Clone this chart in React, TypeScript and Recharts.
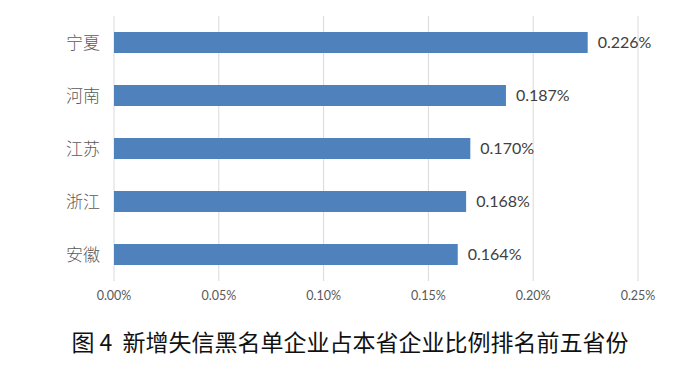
import React from 'react';
import { BarChart, Bar, XAxis, YAxis, CartesianGrid, LabelList } from 'recharts';

const provinces = ['宁夏', '河南', '江苏', '浙江', '安徽'];
const ratios = [0.226, 0.187, 0.170, 0.168, 0.164];
const xTicks = [0, 0.05, 0.1, 0.15, 0.2, 0.25];
const title = '图 4  新增失信黑名单企业占本省企业比例排名前五省份';

const data = provinces.map((name, i) => ({ name, value: ratios[i] }));

const pct = (v: number, digits: number) => `${Number(v).toFixed(digits)}%`;

export default function App() {
    return (
        <div style={{ position: 'absolute', left: 0, top: 0, width: 700, height: 373, background: '#fff' }}>
            <BarChart
                width={700}
                height={310}
                data={data}
                layout="vertical"
                margin={{ top: 16, right: 62, left: 0, bottom: 9 }}
            >
                <CartesianGrid horizontal={false} stroke="#d9d9d9" />
                <XAxis
                    type="number"
                    domain={[0, 0.25]}
                    ticks={xTicks}
                    tickFormatter={(v) => pct(v, 2)}
                    axisLine={false}
                    tickLine={false}
                    height={20}
                    tickMargin={4}
                    tick={{ fontSize: 12.5, fill: '#595959', fontFamily: 'Lato, sans-serif' }}
                />
                <YAxis
                    type="category"
                    dataKey="name"
                    width={114}
                    axisLine={false}
                    tickLine={false}
                    tickMargin={8}
                    tick={{ fontSize: 17, fill: '#595959', fontFamily: '"Noto Sans CJK SC", sans-serif', fontWeight: 300 }}
                />
                <Bar dataKey="value" fill="#4f81bd" barSize={21} isAnimationActive={false}>
                    <LabelList
                        dataKey="value"
                        position="right"
                        offset={10}
                        formatter={(v: any) => pct(v, 3)}
                        style={{ fontSize: 16, fill: '#404040', fontFamily: 'Lato, sans-serif' }}
                    />
                </Bar>
            </BarChart>
            <div
                style={{
                    position: 'absolute',
                    left: 0,
                    width: 700,
                    top: 326,
                    textAlign: 'center',
                    fontSize: 23,
                    lineHeight: '30px',
                    color: '#111',
                    fontFamily: '"Noto Sans CJK SC", sans-serif',
                    whiteSpace: 'pre',
                }}
            >
                {title}
            </div>
        </div>
    );
}
